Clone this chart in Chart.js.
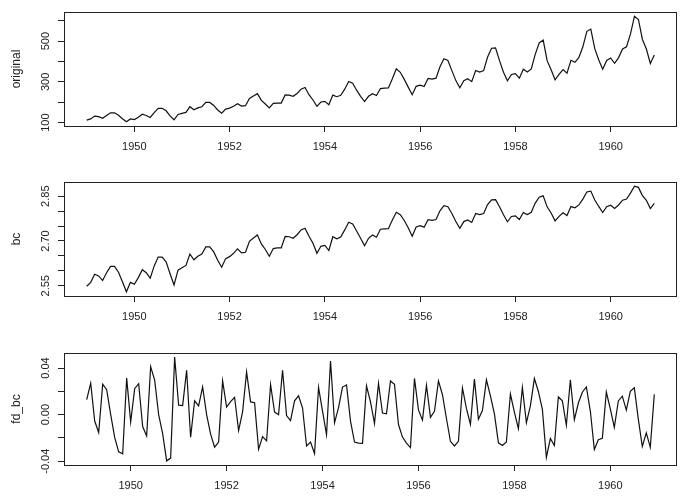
<!DOCTYPE html>
<html>
<head>
<meta charset="utf-8">
<script src="https://cdn.jsdelivr.net/npm/chart.js@4"></script>
<style>
    body { margin: 0; background: #fff; }
    #wrap { position: relative; width: 686px; height: 500px; }
    #wrap canvas { position: absolute; left: 0; }
</style>
</head>
<body>
<div id="wrap">
    <canvas id="origChart" width="686" height="170" style="top:0px"></canvas>
    <canvas id="bcChart" width="686" height="170" style="top:170px"></canvas>
    <canvas id="fdChart" width="686" height="160" style="top:340px"></canvas>
</div>
<script>
// Monthly series, Jan 1949 .. Dec 1960
const startYear = 1949;

const original = [
    112, 118, 132, 129, 121, 135, 148, 148, 136, 119, 104, 118,
    115, 126, 141, 135, 125, 149, 170, 170, 158, 133, 114, 140,
    145, 150, 178, 163, 172, 178, 199, 199, 184, 162, 146, 166,
    171, 180, 193, 181, 183, 218, 230, 242, 209, 191, 172, 194,
    196, 196, 236, 235, 229, 243, 264, 272, 237, 211, 180, 201,
    204, 188, 235, 227, 234, 264, 302, 293, 259, 229, 203, 229,
    242, 233, 267, 269, 270, 315, 364, 347, 312, 274, 237, 278,
    284, 277, 317, 313, 318, 374, 413, 405, 355, 306, 271, 306,
    315, 301, 356, 348, 355, 422, 465, 467, 404, 347, 305, 336,
    340, 318, 362, 348, 363, 435, 491, 505, 404, 359, 310, 337,
    360, 342, 406, 396, 420, 472, 548, 559, 463, 407, 362, 405,
    417, 391, 419, 461, 472, 535, 622, 606, 508, 461, 390, 432
];

const bc = [
    2.5485, 2.5614, 2.5884, 2.5829, 2.5675, 2.5937, 2.6151, 2.6151, 2.5955, 2.5634, 2.5298, 2.5614,
    2.5550, 2.5773, 2.6039, 2.5937, 2.5754, 2.6166, 2.6462, 2.6462, 2.6299, 2.5902, 2.5529, 2.6023,
    2.6104, 2.6182, 2.6563, 2.6369, 2.6488, 2.6563, 2.6801, 2.6801, 2.6634, 2.6355, 2.6120, 2.6410,
    2.6475, 2.6587, 2.6736, 2.6599, 2.6623, 2.6990, 2.7099, 2.7200, 2.6903, 2.6714, 2.6488, 2.6747,
    2.6769, 2.6769, 2.7151, 2.7142, 2.7090, 2.7209, 2.7371, 2.7428, 2.7159, 2.6923, 2.6587, 2.6822,
    2.6853, 2.6681, 2.7142, 2.7072, 2.7133, 2.7371, 2.7626, 2.7569, 2.7334, 2.7090, 2.6843, 2.7090,
    2.7200, 2.7125, 2.7393, 2.7407, 2.7414, 2.7704, 2.7963, 2.7879, 2.7686, 2.7442, 2.7159, 2.7470,
    2.7511, 2.7463, 2.7715, 2.7692, 2.7721, 2.8011, 2.8181, 2.8148, 2.7919, 2.7650, 2.7421, 2.7650,
    2.7704, 2.7620, 2.7924, 2.7884, 2.7919, 2.8218, 2.8379, 2.8386, 2.8144, 2.7879, 2.7644, 2.7821,
    2.7842, 2.7721, 2.7954, 2.7884, 2.7959, 2.8269, 2.8467, 2.8512, 2.8144, 2.7939, 2.7674, 2.7826,
    2.7944, 2.7853, 2.8152, 2.8110, 2.8210, 2.8403, 2.8641, 2.8672, 2.8372, 2.8157, 2.7954, 2.8148,
    2.8198, 2.8088, 2.8206, 2.8365, 2.8403, 2.8604, 2.8835, 2.8796, 2.8522, 2.8365, 2.8084, 2.8258
];

// first differences, Feb 1949 .. Dec 1960
const fdBc = [
             0.0129,  0.0270, -0.0055, -0.0154,  0.0262,  0.0214,  0.0000, -0.0196, -0.0320, -0.0336,  0.0315,
    -0.0063,  0.0223,  0.0266, -0.0102, -0.0183,  0.0412,  0.0296,  0.0000, -0.0163, -0.0397, -0.0373,  0.0494,
     0.0081,  0.0078,  0.0381, -0.0194,  0.0119,  0.0075,  0.0238,  0.0000, -0.0167, -0.0279, -0.0236,  0.0290,
     0.0065,  0.0112,  0.0149, -0.0137,  0.0024,  0.0367,  0.0109,  0.0102, -0.0297, -0.0189, -0.0226,  0.0259,
     0.0022,  0.0000,  0.0381, -0.0008, -0.0052,  0.0119,  0.0162,  0.0057, -0.0269, -0.0236, -0.0336,  0.0235,
     0.0031, -0.0172,  0.0461, -0.0070,  0.0061,  0.0237,  0.0255, -0.0056, -0.0236, -0.0244, -0.0247,  0.0247,
     0.0110, -0.0076,  0.0268,  0.0014,  0.0007,  0.0289,  0.0260, -0.0085, -0.0193, -0.0244, -0.0283,  0.0311,
     0.0041, -0.0047,  0.0252, -0.0023,  0.0029,  0.0290,  0.0171, -0.0033, -0.0229, -0.0269, -0.0229,  0.0229,
     0.0053, -0.0084,  0.0305, -0.0040,  0.0035,  0.0299,  0.0161,  0.0007, -0.0242, -0.0265, -0.0235,  0.0177,
     0.0021, -0.0121,  0.0233, -0.0070,  0.0075,  0.0310,  0.0199,  0.0045, -0.0368, -0.0205, -0.0265,  0.0152,
     0.0118, -0.0091,  0.0300, -0.0043,  0.0100,  0.0193,  0.0238,  0.0031, -0.0300, -0.0215, -0.0203,  0.0194,
     0.0050, -0.0110,  0.0118,  0.0159,  0.0039,  0.0200,  0.0231, -0.0039, -0.0274, -0.0157, -0.0281,  0.0174
];

// tick values and labels
const xTicks = [1950, 1952, 1954, 1956, 1958, 1960];
const origTickLabels = [[100, '100'], [300, '300'], [500, '500']];
const bcTickLabels = [[2.55, '2.55'], [2.70, '2.70'], [2.85, '2.85']];
const fdTickLabels = [[-0.04, '-0.04'], [0.00, '0.00'], [0.04, '0.04']];

const textColor = '#222';

// R-style labels and box, drawn onto the chart's own scales
const rStyle = {
    id: 'rStyle',
    afterDraw(chart, args, opts) {
        const ctx = chart.ctx;
        const a = chart.chartArea;
        const xs = chart.scales.x, ys = chart.scales.y;
        ctx.save();
        ctx.strokeStyle = '#222';
        ctx.lineWidth = 1;
        ctx.strokeRect(Math.round(a.left) + 0.5, Math.round(a.top) + 0.5,
            Math.round(a.right - a.left) - 1, Math.round(a.bottom - a.top));

        ctx.fillStyle = textColor;
        ctx.font = '11px "Liberation Sans", Arial, sans-serif';
        ctx.textAlign = 'center';
        ctx.textBaseline = 'middle';
        xTicks.forEach(v => {
            ctx.fillText(String(v), xs.getPixelForValue(v), a.bottom + 21);
        });
        opts.yLabels.forEach(([v, s]) => {
            ctx.save();
            ctx.translate(45.5, ys.getPixelForValue(v));
            ctx.rotate(-Math.PI / 2);
            ctx.fillText(s, 0, 0);
            ctx.restore();
        });
        ctx.font = '12px "Liberation Sans", Arial, sans-serif';
        ctx.save();
        ctx.translate(17, (a.top + a.bottom) / 2);
        ctx.rotate(-Math.PI / 2);
        ctx.fillText(opts.title, 0, 0);
        ctx.restore();
        ctx.restore();
    }
};

function makePanel(id, values, offset, cfg) {
    const points = values.map((v, i) => ({ x: startYear + (i + offset) / 12, y: v }));
    const ctx = document.getElementById(id).getContext('2d');
    return new Chart(ctx, {
        type: 'line',
        data: {
            datasets: [{
                data: points,
                borderColor: '#111',
                borderWidth: 1.2,
                pointRadius: 0,
                tension: 0,
                fill: false
            }]
        },
        plugins: [rStyle],
        options: {
            responsive: false,
            animation: false,
            events: [],
            layout: { padding: { left: 0, right: 9, top: cfg.top, bottom: 0 } },
            scales: {
                x: {
                    type: 'linear',
                    min: cfg.xMin,
                    max: cfg.xMax,
                    ticks: { display: false, stepSize: 2, includeBounds: false },
                    grid: { drawOnChartArea: false, drawTicks: true, tickLength: 6, color: '#222', lineWidth: 1 },
                    border: { display: false },
                    afterFit: s => { s.height = cfg.bottomSpace; }
                },
                y: {
                    type: 'linear',
                    min: cfg.yMin,
                    max: cfg.yMax,
                    ticks: { display: false, stepSize: cfg.yStep, includeBounds: false },
                    grid: { drawOnChartArea: false, drawTicks: true, tickLength: 6, color: '#222', lineWidth: 1 },
                    border: { display: false },
                    afterFit: s => { s.width = 64; }
                }
            },
            plugins: {
                legend: { display: false },
                tooltip: { enabled: false },
                rStyle: { title: cfg.title, yLabels: cfg.yLabels }
            }
        }
    });
}

makePanel('origChart', original, 0, {
    title: 'original', yLabels: origTickLabels,
    xMin: 1948.523, xMax: 1961.393, yMin: 83.28, yMax: 642.72, yStep: 100,
    top: 12, bottomSpace: 44
});
makePanel('bcChart', bc, 0, {
    title: 'bc', yLabels: bcTickLabels,
    xMin: 1948.523, xMax: 1961.393, yMin: 2.5157, yMax: 2.8976, yStep: 0.05,
    top: 12, bottomSpace: 44
});
makePanel('fdChart', fdBc, 1, {
    title: 'fd_bc', yLabels: fdTickLabels,
    xMin: 1948.610, xMax: 1961.390, yMin: -0.04326, yMax: 0.05296, yStep: 0.02,
    top: 13, bottomSpace: 35
});
</script>
</body>
</html>
